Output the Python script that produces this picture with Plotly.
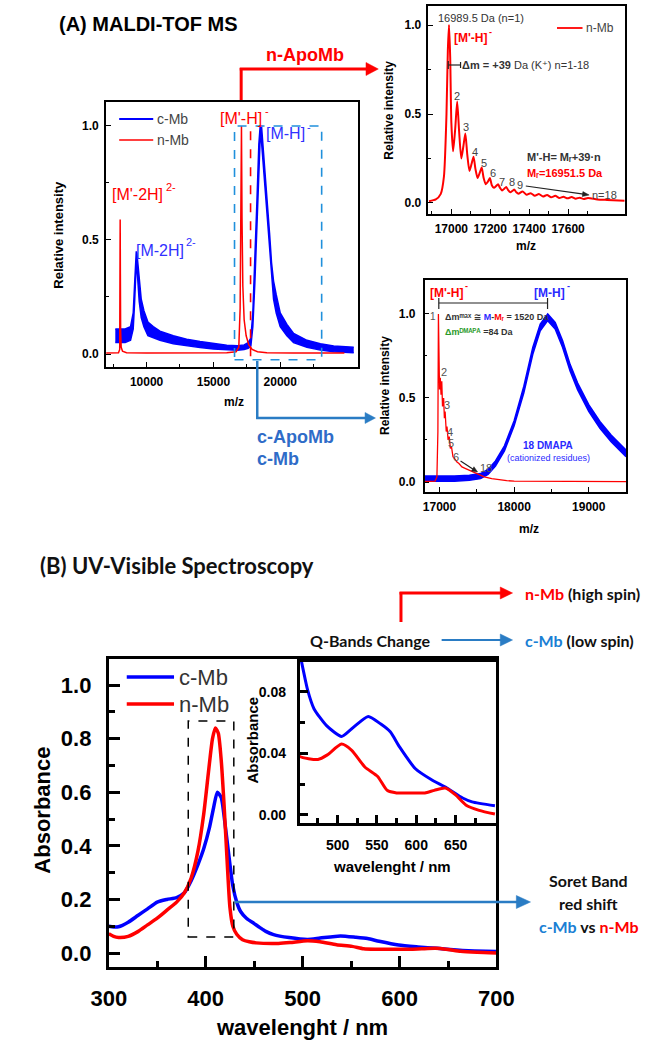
import math
import plotly.graph_objects as go

# ---------------- DATA ----------------
# (A) MALDI-TOF MS, full m/z range: c-Mb noise band (lower / upper edge) and n-Mb
a_mz_cmb = [7660, 8000, 8400, 8800, 9000, 9100, 9180, 9230, 9280, 9350, 9450, 9600, 9800, 10100,
            10500, 11000, 12000, 13000, 14000, 15000, 16000, 16800, 17300, 17600, 17800, 17950,
            18100, 18250, 18400, 18500, 18600, 18750, 18900, 19050, 19200, 19350, 19500, 19700,
            20000, 20500, 21000, 22000, 23000, 24000, 25500]
a_int_cmb_lo = [0.05, 0.05, 0.05, 0.06, 0.11, 0.22, 0.34, 0.40, 0.38, 0.31, 0.23, 0.16, 0.12, 0.08,
                0.07, 0.06, 0.045, 0.035, 0.028, 0.022, 0.018, 0.016, 0.02, 0.025, 0.035, 0.12,
                0.31, 0.58, 0.84, 0.95, 0.93, 0.81, 0.68, 0.56, 0.45, 0.32, 0.24, 0.18,
                0.12, 0.08, 0.05, 0.03, 0.017, 0.01, 0.005]
a_int_cmb_hi = [0.11, 0.11, 0.11, 0.12, 0.18, 0.30, 0.42, 0.45, 0.44, 0.39, 0.31, 0.24, 0.19, 0.14,
                0.12, 0.10, 0.08, 0.065, 0.055, 0.045, 0.038, 0.036, 0.04, 0.05, 0.07, 0.18,
                0.39, 0.66, 0.92, 1.0, 1.0, 0.89, 0.76, 0.64, 0.53, 0.40, 0.32, 0.26,
                0.18, 0.13, 0.09, 0.06, 0.045, 0.035, 0.03]
a_mz_nmb = [6980, 7500, 7900, 7990, 8010, 8025, 8040, 8060, 8100, 8200, 8500, 10000, 13000, 16000,
            16700, 16900, 17000, 17060, 17100, 17140, 17200, 17300, 17450, 17650, 17900, 18300,
            19000, 21000, 24800]
a_int_nmb = [0.004, 0.004, 0.005, 0.02, 0.35, 0.59, 0.35, 0.1, 0.03, 0.012, 0.006, 0.004, 0.004,
             0.005, 0.01, 0.03, 0.2, 0.8, 1.0, 0.6, 0.3, 0.15, 0.08, 0.04, 0.02, 0.01, 0.006,
             0.004, 0.004]

# n-Mb zoom (K+ adduct series)
nz_mz = [16885, 16920, 16945, 16962, 16975, 16982, 16988, 16994, 17000, 17009, 17020, 17030, 17040,
         17051, 17062, 17072, 17082, 17093, 17104, 17114, 17124, 17135, 17146, 17156, 17166, 17177,
         17188, 17198, 17208, 17219, 17230, 17240, 17250, 17261, 17272, 17282, 17292, 17303, 17314,
         17324, 17334, 17345, 17366, 17387, 17408, 17429, 17450, 17471, 17492, 17513, 17534, 17555,
         17576, 17597, 17618, 17639, 17660, 17681, 17702, 17750, 17800, 17890]
nz_int = [0.01, 0.02, 0.05, 0.15, 0.5, 0.86, 1.0, 0.82, 0.45, 0.29, 0.42, 0.57, 0.40,
          0.25, 0.32, 0.39, 0.27, 0.18, 0.22, 0.26, 0.19, 0.14, 0.17, 0.20, 0.14, 0.105,
          0.12, 0.14, 0.10, 0.085, 0.095, 0.105, 0.085, 0.07, 0.08, 0.09, 0.072, 0.06, 0.068,
          0.075, 0.06, 0.052, 0.065, 0.046, 0.055, 0.04, 0.05, 0.036, 0.045, 0.032, 0.04, 0.028,
          0.035, 0.026, 0.033, 0.024, 0.03, 0.022, 0.028, 0.02, 0.017, 0.013]

# c-Mb vs n-Mb zoom
cz_mz_cmb = [16800, 17000, 17200, 17400, 17550, 17650, 17750, 17870, 18000, 18130, 18250, 18350,
             18450, 18550, 18650, 18750, 18850, 19000, 19150, 19300, 19500]
cz_int_cmb_lo = [0.005, 0.005, 0.005, 0.01, 0.02, 0.045, 0.095, 0.185, 0.335, 0.53, 0.76, 0.90,
                 0.96, 0.91, 0.80, 0.66, 0.55, 0.42, 0.32, 0.24, 0.15]
cz_int_cmb_hi = [0.035, 0.035, 0.035, 0.04, 0.05, 0.075, 0.125, 0.215, 0.365, 0.57, 0.80, 0.94,
                 1.0, 0.95, 0.84, 0.70, 0.59, 0.46, 0.36, 0.28, 0.19]
cz_mz_nmb = [16800, 16940, 16965, 16978, 16985, 16992, 17000, 17010, 17020, 17030, 17040, 17055,
             17065, 17075, 17090, 17100, 17115, 17130, 17145, 17160, 17180, 17200, 17230, 17260,
             17300, 17350, 17400, 17450, 17500, 17550, 17600, 17700, 17800, 17900, 18000, 18500,
             19500]
cz_int_nmb = [0.003, 0.005, 0.03, 0.3, 1.0, 0.8, 0.55, 0.62, 0.52, 0.6, 0.45, 0.5,
              0.38, 0.42, 0.3, 0.33, 0.25, 0.27, 0.2, 0.21, 0.15, 0.14, 0.12, 0.11,
              0.09, 0.08, 0.07, 0.06, 0.05, 0.04, 0.03, 0.02, 0.012, 0.008, 0.005, 0.003,
              0.002]

# (B) UV-Visible spectra
uv_wl_cmb = [300, 305, 310, 320, 330, 340, 350, 360, 370, 378, 385, 392, 398, 404, 408, 412, 416,
             420, 424, 428, 432, 436, 442, 450, 456, 462, 470, 486, 505, 518, 539, 555, 567, 579,
             599, 619, 639, 659, 671, 700]
uv_abs_cmb = [0.10, 0.097, 0.098, 0.115, 0.14, 0.165, 0.19, 0.20, 0.207, 0.225, 0.27, 0.33, 0.39,
              0.47, 0.54, 0.60, 0.58, 0.48, 0.36, 0.25, 0.19, 0.155, 0.13, 0.11, 0.095, 0.081,
              0.069, 0.058, 0.051, 0.056, 0.064, 0.059, 0.054, 0.044, 0.030, 0.023, 0.0175,
              0.011, 0.0085, 0.006]
uv_wl_nmb = [300, 305, 310, 320, 330, 340, 350, 360, 370, 378, 385, 392, 398, 403, 407, 410, 413,
             416, 419, 422, 425, 428, 432, 438, 445, 452, 475, 487, 505, 518, 535, 551, 563, 575,
             595, 611, 623, 637, 650, 663, 680, 700]
uv_abs_nmb = [0.072, 0.062, 0.058, 0.062, 0.08, 0.105, 0.13, 0.16, 0.19, 0.225, 0.28, 0.38, 0.52,
              0.68, 0.80, 0.84, 0.82, 0.72, 0.55, 0.35, 0.17, 0.10, 0.07, 0.05, 0.042, 0.038,
              0.036, 0.039, 0.046, 0.042, 0.031, 0.025, 0.016, 0.0143, 0.0143, 0.0143, 0.016,
              0.0175, 0.013, 0.0065, 0.003, 0.0006]

# tick values
a_xticks = [10000, 15000, 20000]
a_xminor = [7500, 12500, 17500, 22500]
nz_xticks = [17000, 17200, 17400, 17600]
nz_xminor = [16900, 17100, 17300, 17500, 17700]
cz_xticks = [17000, 18000, 19000]
cz_xminor = [17500, 18500]
int_ticks = [0.0, 0.5, 1.0]
int_minor = [0.25, 0.75]
uv_xticks = [300, 400, 500, 600, 700]
uv_xminor = [350, 450, 550, 650]
uv_yticks = [0.0, 0.2, 0.4, 0.6, 0.8, 1.0]
uv_yminor = [0.1, 0.3, 0.5, 0.7, 0.9]
ins_xticks = [500, 550, 600, 650]
ins_xminor = [475, 525, 575, 625, 675]
ins_yticks = [0.0, 0.04, 0.08]
ins_yminor = [0.02, 0.06]

# ---------------- STYLE ----------------
W, H = 662, 1043
ARIAL = "Liberation Sans, Arial, DejaVu Sans, sans-serif"
CAL = "Lato, Open Sans, sans-serif"
RED = "#ff0000"
BLUE = "#0000ff"
ABLUE = "#2a7cc4"


def px(x):
    return x / W


def py(y):
    return 1 - y / H


fig = go.Figure()


def line_trace(x, y, color, width, xa, ya, shape="linear", fill=None):
    fig.add_trace(go.Scatter(x=x, y=y, mode="lines", xaxis=xa, yaxis=ya, fill=fill,
                             fillcolor=color if fill else None,
                             line=dict(color=color, width=width, shape=shape, smoothing=0.6),
                             showlegend=False, hoverinfo="skip"))


# A main
line_trace(a_mz_cmb, a_int_cmb_lo, BLUE, 1.5, "x", "y")
line_trace(a_mz_cmb, a_int_cmb_hi, BLUE, 1.5, "x", "y", fill="tonexty")
line_trace(a_mz_nmb, a_int_nmb, RED, 1.5, "x", "y")
# n-Mb zoom
line_trace(nz_mz, nz_int, RED, 2, "x2", "y2", shape="spline")
# c-Mb vs n-Mb zoom
line_trace(cz_mz_cmb, cz_int_cmb_lo, BLUE, 1.5, "x3", "y3")
line_trace(cz_mz_cmb, cz_int_cmb_hi, BLUE, 1.5, "x3", "y3", fill="tonexty")
line_trace(cz_mz_nmb, cz_int_nmb, RED, 1.3, "x3", "y3")
# UV-Vis main
line_trace(uv_wl_cmb, uv_abs_cmb, BLUE, 3.5, "x4", "y4", shape="spline")
line_trace(uv_wl_nmb, uv_abs_nmb, RED, 3.5, "x4", "y4", shape="spline")
# UV-Vis inset
line_trace(uv_wl_cmb, uv_abs_cmb, BLUE, 3, "x5", "y5", shape="spline")
line_trace(uv_wl_nmb, uv_abs_nmb, RED, 3, "x5", "y5", shape="spline")


def axis(l, r, t, b, rng, tv, mv, fmt, fs, lw, tl, mtl, tw, so, anchor):
    return dict(domain=[px(l), px(r)] if anchor.startswith("y") else [py(b), py(t)],
                range=rng, anchor=anchor, showline=True, linecolor="black", linewidth=lw,
                mirror=True, ticks="inside", ticklen=tl, tickwidth=tw, tickcolor="black",
                tickmode="array", tickvals=tv, tickformat=fmt,
                tickfont=dict(family=ARIAL, size=fs, color="black", weight="bold"),
                showgrid=False, zeroline=False, fixedrange=True, ticklabelstandoff=so,
                minor=dict(tickmode="array", tickvals=mv, ticks="inside", ticklen=mtl,
                           tickwidth=tw, tickcolor="black", showgrid=False))


fig.update_layout(
    width=W, height=H, margin=dict(l=0, r=0, t=0, b=0),
    paper_bgcolor="white", plot_bgcolor="rgba(0,0,0,0)", showlegend=False,
    xaxis=axis(93, 360, 102, 367, [6960, 25850], a_xticks, a_xminor, "d", 12, 1.5, 5, 3, 1.2, 3, "y"),
    yaxis=axis(93, 360, 102, 367, [-0.057, 1.105], int_ticks, int_minor, ".1f", 12, 1.5, 5, 3, 1.2, 3, "x"),
    xaxis2=axis(434, 642, 6, 214, [16882, 17893], nz_xticks, nz_xminor, "d", 12, 1.5, 5, 3, 1.2, 3, "y2"),
    yaxis2=axis(434, 642, 6, 214, [-0.062, 1.107], int_ticks, int_minor, ".1f", 12, 1.5, 5, 3, 1.2, 3, "x2"),
    xaxis3=axis(430, 643, 280, 492, [16800, 19500], cz_xticks, cz_xminor, "d", 12, 1.5, 5, 3, 1.2, 3, "y3"),
    yaxis3=axis(430, 643, 280, 492, [-0.0595, 1.202], int_ticks, int_minor, ".1f", 12, 1.5, 5, 3, 1.2, 5, "x3"),
    xaxis4=axis(96, 506, 659, 967, [300, 700], uv_xticks, uv_xminor, "d", 22, 3, 11, 6, 3, 10, "y4"),
    yaxis4=axis(96, 506, 659, 967, [-0.052, 1.097], uv_yticks, uv_yminor, ".1f", 22, 3, 11, 6, 3, 10, "x4"),
    xaxis5=axis(298, 506, 662, 823, [452, 702], ins_xticks, ins_xminor, "d", 14, 3, 8, 5, 2.5, 7, "y5"),
    yaxis5=axis(298, 506, 662, 823, [-0.0052, 0.0993], ins_yticks, ins_yminor, ".2f", 14, 3, 8, 5, 2.5, 8, "x5"),
)


def txt(x, y, s, size, color="black", xanchor="left", family=ARIAL, angle=0, yanchor="middle"):
    fig.add_annotation(x=px(x), y=py(y), xref="paper", yref="paper", text=s, showarrow=False,
                       font=dict(family=family, size=size, color=color), xanchor=xanchor,
                       yanchor=yanchor, textangle=angle, borderpad=0)


def seg(x0, y0, x1, y1, color, width, dash=None):
    fig.add_shape(type="line", xref="paper", yref="paper", x0=px(x0), y0=py(y0), x1=px(x1),
                  y1=py(y1), line=dict(color=color, width=width, dash=dash))


def arrow(x0, y0, x1, y1, color, width, hl, hw):
    # shaft from (x0, y0) and filled triangular head with its tip at (x1, y1); screen pixels
    d = math.hypot(x1 - x0, y1 - y0)
    ux, uy = (x1 - x0) / d, (y1 - y0) / d
    bx, by = x1 - ux * hl, y1 - uy * hl
    seg(x0, y0, bx + ux * 1, by + uy * 1, color, width)
    nx, ny = -uy, ux
    p1 = (bx + nx * hw / 2, by + ny * hw / 2)
    p2 = (bx - nx * hw / 2, by - ny * hw / 2)
    path = "M {:.5f},{:.5f} L {:.5f},{:.5f} L {:.5f},{:.5f} Z".format(
        px(x1), py(y1), px(p1[0]), py(p1[1]), px(p2[0]), py(p2[1]))
    fig.add_shape(type="path", xref="paper", yref="paper", path=path, fillcolor=color,
                  line=dict(color=color, width=0.5))


# ---------- Panel A ----------
txt(42, 24, "<b>(A) MALDI-TOF MS</b>", 20)
# red path to n-ApoMb
seg(236, 100, 236, 68, RED, 3)
arrow(234.5, 69, 381, 69, RED, 3, 13, 13)
txt(304, 55, "<b>n-ApoMb</b>", 18, RED, "center")
# blue path to c-ApoMb
seg(253, 361, 253, 419, ABLUE, 2.5)
arrow(251.8, 418, 378, 418, ABLUE, 2.5, 11, 11)
txt(252, 437, "<b>c-ApoMb</b>", 18, "#2f6cc8")
txt(252, 459, "<b>c-Mb</b>", 18, "#2f6cc8")
# dashed box and dashed line
fig.add_shape(type="rect", xref="x", yref="y", x0=16580, x1=23100, y0=-0.025, y1=1.0,
              line=dict(color="#2090dc", width=1.6, dash="dash"))
fig.add_shape(type="line", xref="x", yref="y", x0=17780, x1=17780, y0=-0.01, y1=1.0,
              line=dict(color=RED, width=1.6, dash="dash"))
# legend
seg(107, 119, 143, 119, BLUE, 2)
seg(107, 140, 143, 140, RED, 1.5)
txt(146, 119, "c-Mb", 14, "#444")
txt(146, 140, "n-Mb", 14, "#444")
# peak labels (superscript charges as small raised texts)
txt(213, 118, "[M'-H]", 16, RED)
txt(260, 111, "-", 11, RED)
txt(261, 134, "[M-H]", 16, "#3030ff")
txt(305, 127, "-", 11, "#3030ff")
txt(98, 195, "[M'-2H]", 16, RED)
txt(155, 187, "2-", 11, RED)
txt(124, 250, "[M-2H]", 16, "#3030ff")
txt(177, 242, "2-", 11, "#3030ff")
txt(43, 235, "<b>Relative intensity</b>", 13, angle=-90, xanchor="center")
txt(228, 402, "<b>m/z</b>", 12, xanchor="center")

# ---------- n-Mb zoom panel ----------
txt(443, 18, "16989.5 Da (n=1)", 11, "#333")
txt(460, 38, "<b>[M'-H]</b>", 12, RED)
txt(497, 32, "<b>-</b>", 9, RED)
seg(570, 28, 597, 28, RED, 1.8)
txt(600, 28, "n-Mb", 12, "#444")
seg(455, 65, 468, 65, "#222", 1.2)
seg(455, 61, 455, 69, "#222", 1.2)
seg(468, 62, 468, 68, "#222", 1.2)
txt(469, 65, "<b>Δm = +39</b> Da (K⁺) n=1-18", 11, "#333")
for lab, lx, ly in [("2", 464, 96), ("3", 474, 127), ("4", 483, 152), ("5", 493, 163),
                    ("6", 502, 173), ("7", 512, 182), ("8", 522, 182), ("9", 531, 185)]:
    txt(lx, ly, lab, 11, "#444", "center")
txt(537, 157, "<b>M'-H= Mᵣ+39·n</b>", 11, "#333")
txt(537, 173, "<b>Mᵣ=16951.5 Da</b>", 11, RED)
arrow(537, 186, 604, 195, "#222", 1.2, 7, 5)
txt(606, 195, "n=18", 11, "#444")
txt(392, 110, "<b>Relative intensity</b>", 12, angle=-90, xanchor="center")
txt(537, 246, "<b>m/z</b>", 12, xanchor="center")

# ---------- c-Mb vs n-Mb zoom panel ----------
txt(435, 293, "<b>[M'-H]</b>", 12, RED)
txt(472, 286, "<b>-</b>", 9, RED)
txt(545, 293, "<b>[M-H]</b>", 12, "#2a2aff")
txt(580, 286, "<b>-</b>", 9, "#2a2aff")
seg(445, 303, 560, 303, "#222", 1.2)
seg(445, 298, 445, 309, "#222", 1.2)
seg(560, 298, 560, 309, "#222", 1.2)
txt(439, 316, "1", 10, "#555", "center")
txt(451, 317, "<b>Δmᵐᵃˣ ≅ <span style='color:#2a2aff'>M</span>-"
              "<span style='color:#ff0000'>Mᵣ</span> = 1520 Da</b>", 9, "#333")
txt(451, 332, "<b><span style='color:#2a9a2a'>Δmᴰᴹᴬᴾᴬ</span> =84 Da</b>", 9, "#333")
for lab, lx, ly in [("2", 450, 372), ("3", 454, 405), ("4", 457, 432), ("5", 458, 443),
                    ("6", 463, 457)]:
    txt(lx, ly, lab, 11, "#555", "center")
arrow(468, 461, 486, 472, "#222", 1.2, 6, 5)
txt(488, 468, "18", 11, "#555")
txt(561, 445, "<b>18 DMAPA</b>", 10, "#2a2aff", "center")
txt(561, 458, "(cationized residues)", 9, "#2a2aff", "center")
txt(388, 385, "<b>Relative intensity</b>", 12, angle=-90, xanchor="center")
txt(540, 529, "<b>m/z</b>", 12, xanchor="center")

# ---------- Panel B ----------
txt(22, 565, "<b>(B) UV-Visible Spectroscopy</b>", 22, "#111", family=CAL)
seg(405, 622, 405, 592, RED, 3)
arrow(403.5, 593, 523, 593, RED, 3, 13, 12)
txt(535, 593, "<b><span style='color:#ff0000'>n-Mb</span> (high spin)</b>", 16, "#111", family=CAL)
txt(438, 640, "<b>Q-Bands Change</b>", 16, "#111", "right", family=CAL)
arrow(448, 640, 523, 640, ABLUE, 2, 13, 12)
txt(535, 640, "<b><span style='color:#1a7fd4'>c-Mb</span> (low spin)</b>", 16, "#111", family=CAL)
# legend
seg(115, 677, 165, 677, BLUE, 3.5)
seg(115, 704, 165, 704, RED, 3.5)
txt(169, 677, "c-Mb", 22, "#333")
txt(169, 704, "n-Mb", 22, "#333")
# dashed box on Soret band
fig.add_shape(type="rect", xref="x4", yref="y4", x0=382, x1=429, y0=0.06, y1=0.866,
              line=dict(color="black", width=1.5, dash="dash"))
arrow(229, 902, 542, 902, ABLUE, 2.5, 15, 13)
txt(603, 880, "<b>Soret Band</b>", 16, "#111", "center", family=CAL)
txt(603, 903, "<b>red shift</b>", 16, "#111", "center", family=CAL)
txt(603, 926, "<b><span style='color:#1a7fd4'>c-Mb</span> vs <span style='color:#ff0000'>n-Mb</span></b>",
    16, "#111", "center", family=CAL)
txt(25, 810, "<b>Absorbance</b>", 22, angle=-90, xanchor="center")
txt(300, 1027, "<b>wavelenght / nm</b>", 22, xanchor="center")
txt(247, 740, "<b>Absorbance</b>", 15, angle=-90, xanchor="center")
txt(396, 866, "<b>wavelenght / nm</b>", 15, xanchor="center")

fig.write_html("out.html")
